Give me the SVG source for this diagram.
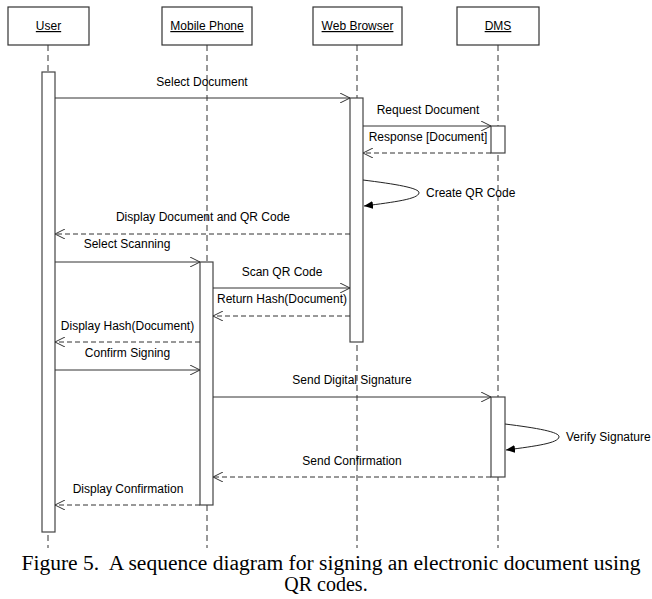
<svg xmlns="http://www.w3.org/2000/svg" width="652" height="599" viewBox="0 0 652 599">
<style>
text{font-family:"Liberation Sans",Arial,sans-serif;font-size:12px;fill:#000}
.hd{text-anchor:middle;text-decoration:underline}
.mid{text-anchor:middle}
.box{fill:#fff;stroke:#333;stroke-width:1.2}
.life{stroke:#333;stroke-width:1;stroke-dasharray:6,4;fill:none}
.act{fill:#fff;stroke:#444;stroke-width:1.2}
.msg{stroke:#333;stroke-width:1;fill:none;marker-end:url(#open)}
.ret{stroke:#333;stroke-width:1;fill:none;stroke-dasharray:5,3;marker-end:url(#open)}
.self{stroke:#222;stroke-width:1;fill:none;marker-end:url(#fill)}
.cap{font-family:"Liberation Serif","Times New Roman",serif;font-size:20px;text-anchor:middle}
</style>
<defs>
<marker id="open" markerWidth="12" markerHeight="10" refX="10" refY="5" orient="auto" markerUnits="userSpaceOnUse">
<path d="M0,0 L10,5 L0,10" fill="none" stroke="#333" stroke-width="1"/>
</marker>
<marker id="fill" markerWidth="12" markerHeight="10" refX="9" refY="4" orient="auto" markerUnits="userSpaceOnUse">
<path d="M0,0 L9,4 L0,8 Z" fill="#000"/>
</marker>
</defs>
<rect width="652" height="599" fill="#fff"/>
<g id="lifelines">
<line class="life" x1="48" y1="45" x2="48" y2="548"/>
<line class="life" x1="207" y1="45" x2="207" y2="548"/>
<line class="life" x1="357" y1="45" x2="357" y2="548"/>
<line class="life" x1="498" y1="45" x2="498" y2="548"/>
</g>
<g id="user">
<rect class="box" x="8" y="7" width="81" height="38"/>
<text class="hd" x="48.5" y="30">User</text>
<rect class="act" x="42" y="72" width="13" height="460"/>
</g>
<g id="mobile">
<rect class="box" x="162" y="7" width="90" height="38"/>
<text class="hd" x="207" y="30">Mobile Phone</text>
<rect class="act" x="200" y="262" width="13" height="243"/>
</g>
<g id="browser">
<rect class="box" x="313" y="7" width="89" height="38"/>
<text class="hd" x="357.5" y="30">Web Browser</text>
<rect class="act" x="350" y="98" width="13" height="244"/>
</g>
<g id="dms">
<rect class="box" x="457" y="7" width="82" height="38"/>
<text class="hd" x="498" y="30">DMS</text>
<rect class="act" x="491" y="126" width="14" height="27"/>
<rect class="act" x="491" y="397" width="14" height="80"/>
</g>
<g id="connectors">
<line class="msg" x1="55" y1="98" x2="350" y2="98"/>
<line class="msg" x1="363" y1="126" x2="491" y2="126"/>
<line class="ret" x1="491" y1="153" x2="363" y2="153"/>
<path class="self" d="M363,180 C395,184 420,188 419,193 C418,199 395,202 364,206"/>
<line class="ret" x1="350" y1="234" x2="55" y2="234"/>
<line class="msg" x1="55" y1="262" x2="200" y2="262"/>
<line class="msg" x1="213" y1="288" x2="350" y2="288"/>
<line class="ret" x1="350" y1="316" x2="213" y2="316"/>
<line class="ret" x1="200" y1="342" x2="55" y2="342"/>
<line class="msg" x1="55" y1="370" x2="200" y2="370"/>
<line class="msg" x1="213" y1="397" x2="491" y2="397"/>
<path class="self" d="M505,424 C537,428 560,432 559,437 C558,443 537,446 506,450"/>
<line class="ret" x1="491" y1="477" x2="213" y2="477"/>
<line class="ret" x1="200" y1="505" x2="55" y2="505"/>
</g>
<g id="labels">
<text class="mid" x="202" y="86">Select Document</text>
<text class="mid" x="428" y="114">Request Document</text>
<text class="mid" x="428" y="141">Response [Document]</text>
<text x="426" y="197">Create QR Code</text>
<text class="mid" x="203" y="221">Display Document and QR Code</text>
<text class="mid" x="127" y="248">Select Scanning</text>
<text class="mid" x="282" y="276">Scan QR Code</text>
<text class="mid" x="282" y="303">Return Hash(Document)</text>
<text class="mid" x="127.5" y="330">Display Hash(Document)</text>
<text class="mid" x="127.5" y="357">Confirm Signing</text>
<text class="mid" x="352" y="384">Send Digital Signature</text>
<text x="566" y="441">Verify Signature</text>
<text class="mid" x="352" y="465">Send Confirmation</text>
<text class="mid" x="128" y="493">Display Confirmation</text>
</g>
<g id="caption">
<text class="cap" x="331" y="570" xml:space="preserve" textLength="619" lengthAdjust="spacingAndGlyphs">Figure 5.  A sequence diagram for signing an electronic document using</text>
<text class="cap" x="326" y="591">QR codes.</text>
</g>
</svg>
